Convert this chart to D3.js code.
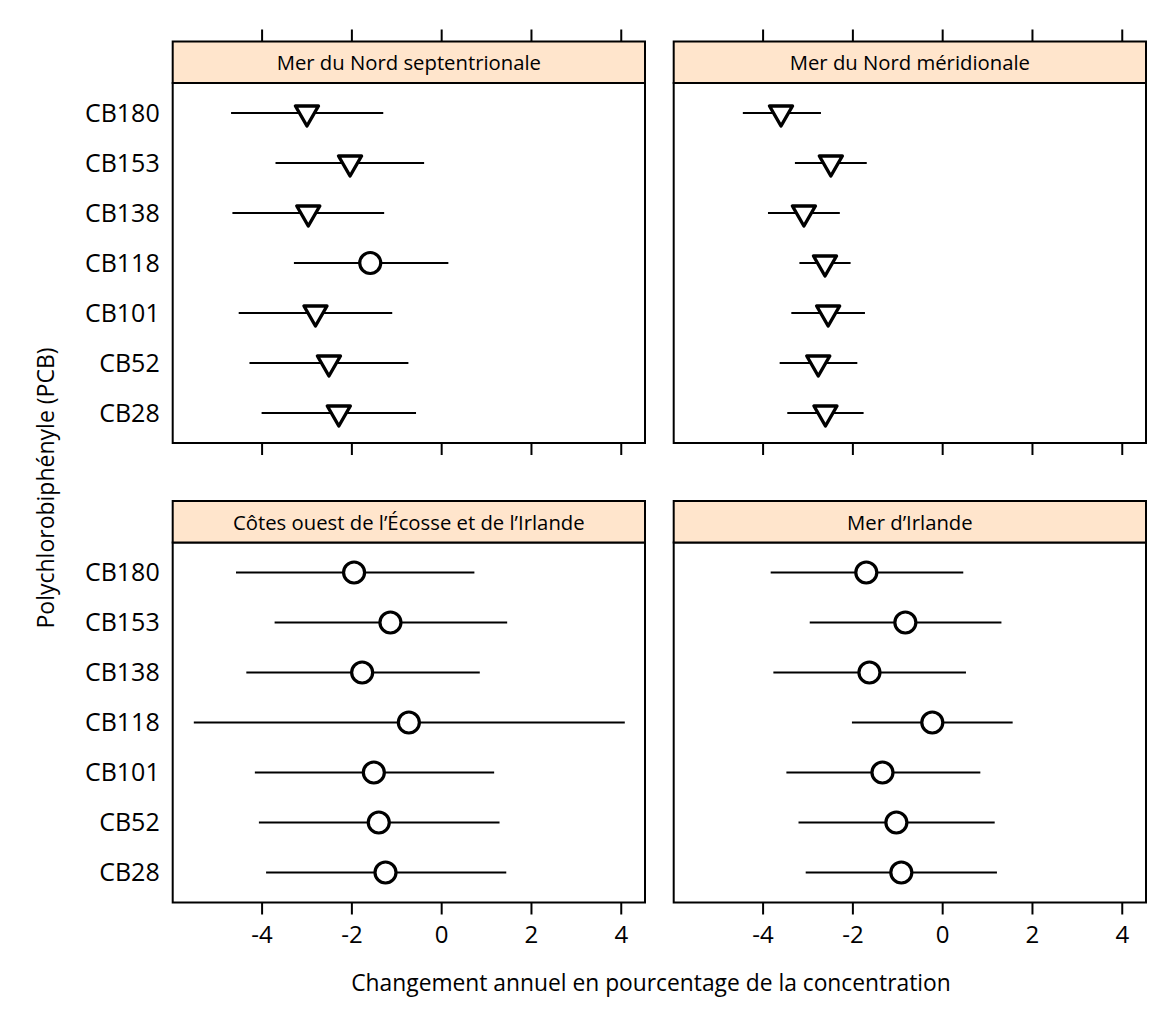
<!DOCTYPE html>
<html>
<head>
<meta charset="utf-8">
<script src="https://cdn.jsdelivr.net/npm/d3@7"></script>
<style>
  body { margin: 0; background: #fff; }
  text { font-family: "Open Sans", sans-serif; fill: #000; }
</style>
</head>
<body>
<script>
// congeners, top to bottom
var congeners = ["CB180", "CB153", "CB138", "CB118", "CB101", "CB52", "CB28"];
var xTicks = [-4, -2, 0, 2, 4];

var regions = ["Mer du Nord septentrionale", "Mer du Nord méridionale",
               "Côtes ouest de l’Écosse et de l’Irlande", "Mer d’Irlande"];

// annual % change: estimate, lower and upper limits, marker (down = significant decline)
var nordSeptEst = [-2.99, -2.03, -2.96, -1.58, -2.80, -2.50, -2.28];
var nordSeptLo  = [-4.68, -3.69, -4.65, -3.28, -4.51, -4.27, -4.00];
var nordSeptHi  = [-1.29, -0.38, -1.27,  0.16, -1.09, -0.73, -0.56];
var nordSeptSym = ["down", "down", "down", "circle", "down", "down", "down"];

var nordMerEst = [-3.59, -2.48, -3.08, -2.61, -2.54, -2.76, -2.60];
var nordMerLo  = [-4.44, -3.28, -3.88, -3.18, -3.36, -3.62, -3.45];
var nordMerHi  = [-2.70, -1.68, -2.28, -2.04, -1.72, -1.89, -1.75];
var nordMerSym = ["down", "down", "down", "down", "down", "down", "down"];

var ecosseEst = [-1.94, -1.13, -1.76, -0.72, -1.50, -1.39, -1.24];
var ecosseLo  = [-4.57, -3.71, -4.34, -5.51, -4.15, -4.06, -3.90];
var ecosseHi  = [ 0.74,  1.47,  0.86,  4.09,  1.18,  1.30,  1.45];
var ecosseSym = ["circle", "circle", "circle", "circle", "circle", "circle", "circle"];

var irlandeEst = [-1.69, -0.82, -1.62, -0.22, -1.33, -1.02, -0.91];
var irlandeLo  = [-3.82, -2.95, -3.76, -2.01, -3.47, -3.20, -3.04];
var irlandeHi  = [ 0.47,  1.32,  0.53,  1.57,  0.85,  1.17,  1.22];
var irlandeSym = ["circle", "circle", "circle", "circle", "circle", "circle", "circle"];

var xDomain = [-5.98, 4.54];

(function () {
  var W = 1170, H = 1013;
  var colX = [172.7, 673.7];
  var panelW = 472.3;
  var stripTop = [41.5, 501];
  var stripH = 41.5;
  var plotH = 360;
  var tickLen = 12;

  var series = [
    { est: nordSeptEst, lo: nordSeptLo, hi: nordSeptHi, sym: nordSeptSym },
    { est: nordMerEst, lo: nordMerLo, hi: nordMerHi, sym: nordMerSym },
    { est: ecosseEst, lo: ecosseLo, hi: ecosseHi, sym: ecosseSym },
    { est: irlandeEst, lo: irlandeLo, hi: irlandeHi, sym: irlandeSym }
  ];

  var svg = d3.select("body").append("svg")
      .attr("width", W)
      .attr("height", H);

  var x = d3.scaleLinear().domain(xDomain).range([0, panelW]);
  var y = d3.scalePoint().domain(congeners).range([0, plotH]).padding(0.6);

  var tri = "M-11.5,-7 L11.5,-7 L0,13 Z";

  regions.forEach(function (name, i) {
    var col = i % 2, row = Math.floor(i / 2);
    var s = series[i];
    var px = colX[col], st = stripTop[row], py = st + stripH;

    var g = svg.append("g").attr("transform", "translate(" + px + "," + py + ")");

    // strip
    svg.append("rect")
        .attr("x", px).attr("y", st)
        .attr("width", panelW).attr("height", stripH)
        .attr("fill", "#ffe5cc")
        .attr("stroke", "#000").attr("stroke-width", 2);
    svg.append("text")
        .attr("x", px + panelW / 2).attr("y", st + stripH / 2)
        .attr("text-anchor", "middle")
        .attr("dominant-baseline", "central")
        .style("font-size", "20.3px")
        .text(name);

    var rows = congeners.map(function (c, k) {
      return { c: c, est: s.est[k], lo: s.lo[k], hi: s.hi[k], sym: s.sym[k] };
    });

    g.selectAll("line.ci").data(rows).enter().append("line")
        .attr("class", "ci")
        .attr("x1", function (d) { return x(d.lo); })
        .attr("x2", function (d) { return x(d.hi); })
        .attr("y1", function (d) { return y(d.c); })
        .attr("y2", function (d) { return y(d.c); })
        .attr("stroke", "#000").attr("stroke-width", 2);

    g.selectAll("circle.pt").data(rows.filter(function (d) { return d.sym === "circle"; }))
      .enter().append("circle")
        .attr("class", "pt")
        .attr("cx", function (d) { return x(d.est); })
        .attr("cy", function (d) { return y(d.c); })
        .attr("r", 10.5)
        .attr("fill", "#fff").attr("stroke", "#000").attr("stroke-width", 3.2);

    g.selectAll("path.pt").data(rows.filter(function (d) { return d.sym === "down"; }))
      .enter().append("path")
        .attr("class", "pt")
        .attr("d", tri)
        .attr("transform", function (d) { return "translate(" + x(d.est) + "," + y(d.c) + ")"; })
        .attr("fill", "#fff").attr("stroke", "#000").attr("stroke-width", 3.4)
        .attr("stroke-linejoin", "round");

    // frame
    g.append("rect")
        .attr("width", panelW).attr("height", plotH)
        .attr("fill", "none").attr("stroke", "#000").attr("stroke-width", 2);

    // bottom ticks
    var bottom = d3.axisBottom(x).tickValues(xTicks).tickSize(tickLen).tickSizeOuter(0)
        .tickPadding(11);
    var bx = g.append("g").attr("transform", "translate(0," + plotH + ")").call(bottom);
    bx.select(".domain").remove();
    bx.selectAll("line").attr("stroke", "#000").attr("stroke-width", 2);
    bx.selectAll("text").style("font-size", "24px").attr("font-family", null)
        .text(function (d) { return row === 1 ? String(d) : ""; });

    // top ticks above the strip, upper row only
    if (row === 0) {
      var top = d3.axisTop(x).tickValues(xTicks).tickSize(tickLen).tickSizeOuter(0)
          .tickFormat(function () { return ""; });
      var tx = svg.append("g").attr("transform", "translate(" + px + "," + st + ")").call(top);
      tx.select(".domain").remove();
      tx.selectAll("line").attr("stroke", "#000").attr("stroke-width", 2);
    }

    // congener labels, left column only
    if (col === 0) {
      var left = d3.axisLeft(y).tickSize(0).tickPadding(13);
      var ly = g.append("g").call(left);
      ly.select(".domain").remove();
      ly.selectAll("text").style("font-size", "25px").attr("font-family", null);
    }
  });

  svg.append("text")
      .attr("x", 651).attr("y", 982)
      .attr("text-anchor", "middle")
      .attr("dominant-baseline", "central")
      .style("font-size", "22.8px")
      .text("Changement annuel en pourcentage de la concentration");

  svg.append("text")
      .attr("transform", "translate(45,488) rotate(-90)")
      .attr("text-anchor", "middle")
      .attr("dominant-baseline", "central")
      .style("font-size", "23px")
      .text("Polychlorobiphényle (PCB)");
})();
</script>
</body>
</html>
